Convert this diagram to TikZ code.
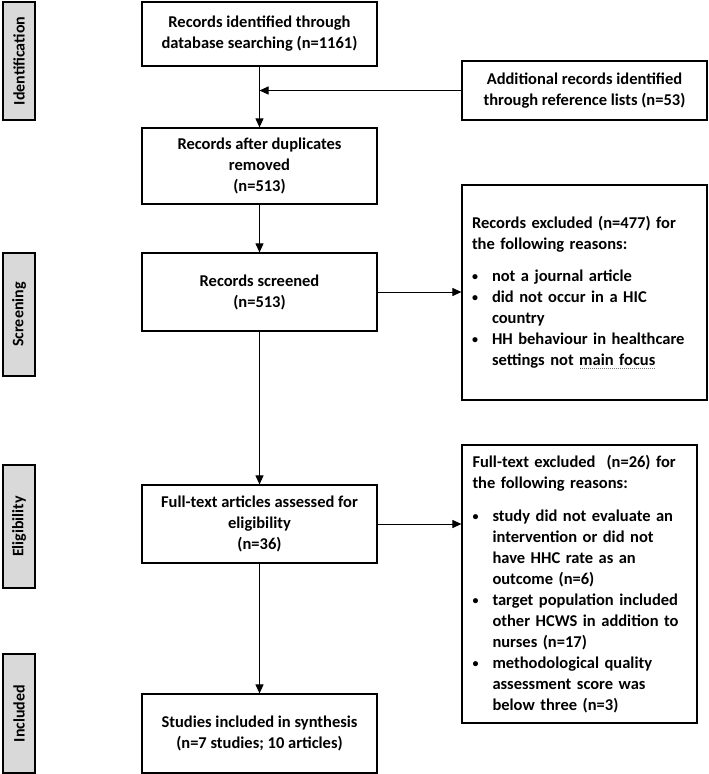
\documentclass[tikz,border=0pt]{standalone}
\usepackage{fontspec}
\setmainfont{Carlito}
\usetikzlibrary{arrows.meta}
\newcommand\spelldots[1]{\setbox0\hbox{#1}\rlap{\lower3.4pt\hbox to\wd0{\textcolor{black!55}{\xleaders\hbox to 2pt{\hss\rule{0.9pt}{0.9pt}\hss}\hfil}}}\box0}
\newcommand\smallbullet{\raisebox{1.2pt}{\fontsize{12}{12}\selectfont\textbullet}}
\newcommand\bitem[1]{\par\hangindent=20pt\hangafter=1\noindent\makebox[20pt][l]{\smallbullet}#1}
\begin{document}
\begin{tikzpicture}[x=1pt,y=-1pt,
  every node/.style={font=\fontsize{16.5}{21}\selectfont\bfseries},
  mainbox/.style={draw, line width=1.2pt, minimum width=235pt, align=center, inner sep=0pt},
  exbox/.style={draw, line width=1.2pt, align=left, inner sep=0pt},
  phase/.style={draw, line width=1.5pt, fill=black!15, rotate=90, minimum height=32pt, inner sep=0pt, font=\fontsize{16}{20}\selectfont\bfseries},
  arr/.style={line width=1pt, -{Triangle[length=9pt,width=8pt]}}]
\useasboundingbox (0,0) rectangle (709,774);

% phase labels
\node[phase, minimum width=118pt] (pid) at (19,61) {Identification};
\node[phase, minimum width=123pt] (psc) at (19,314.5) {Screening};
\node[phase, minimum width=123pt] (pel) at (19,526.5) {Eligibility};
\node[phase, minimum width=119pt] (pin) at (19,713.5) {Included};

% main column
\node[mainbox, minimum height=64pt] (b1) at (259.5,34) {Records identified through\\database searching (n=1161)};
\node[mainbox, minimum height=76pt] (b2) at (259.5,166) {Records after duplicates\\removed\\(n=513)};
\node[mainbox, minimum height=78pt] (b3) at (259.5,292) {Records screened\\(n=513)};
\node[mainbox, minimum height=78pt] (b4) at (259.5,524) {Full-text articles assessed for\\eligibility\\(n=36)};
\node[mainbox, minimum height=79pt] (b5) at (259.5,733.5) {Studies included in synthesis\\(n=7 studies; 10 articles)};

% side boxes
\node[mainbox, minimum width=245pt, minimum height=59pt] (add) at (584.5,90.5) {Additional records identified\\through reference lists (n=53)};

\node[exbox, minimum width=245pt, minimum height=215pt, text width=225pt] (ex1) at (584.5,292.5) {%
Records excluded (n=477) for\\the following reasons:\par\vspace{11pt}
\bitem{not a journal article}
\bitem{did not occur in a HIC\newline country}
\bitem{HH behaviour in healthcare\newline settings not \spelldots{main focus}}\par};

\node[exbox, minimum width=235pt, minimum height=278pt, text width=214pt] (ex2) at (579.5,584) {%
Full-text excluded \ (n=26) for\\the following reasons:\par\vspace{12pt}
\bitem{study did not evaluate an\newline intervention or did not\newline have HHC rate as an\newline outcome (n=6)}
\bitem{target population included\newline other HCWS in addition to\newline nurses (n=17)}
\bitem{methodological quality\newline assessment score was\newline below three (n=3)}\par};

% connectors
\coordinate (j) at (b1.south |- add.west);
\draw[arr] (b1.south) -- (b2.north);
\draw[arr] (add.west) -- (j);
\draw[arr] (b2.south) -- (b3.north);
\draw[arr] (b3.east) -- (b3.east -| ex1.west);
\draw[arr] (b3.south) -- (b4.north);
\draw[arr] (b4.east) -- (b4.east -| ex2.west);
\draw[arr] (b4.south) -- (b5.north);
\end{tikzpicture}
\end{document}
